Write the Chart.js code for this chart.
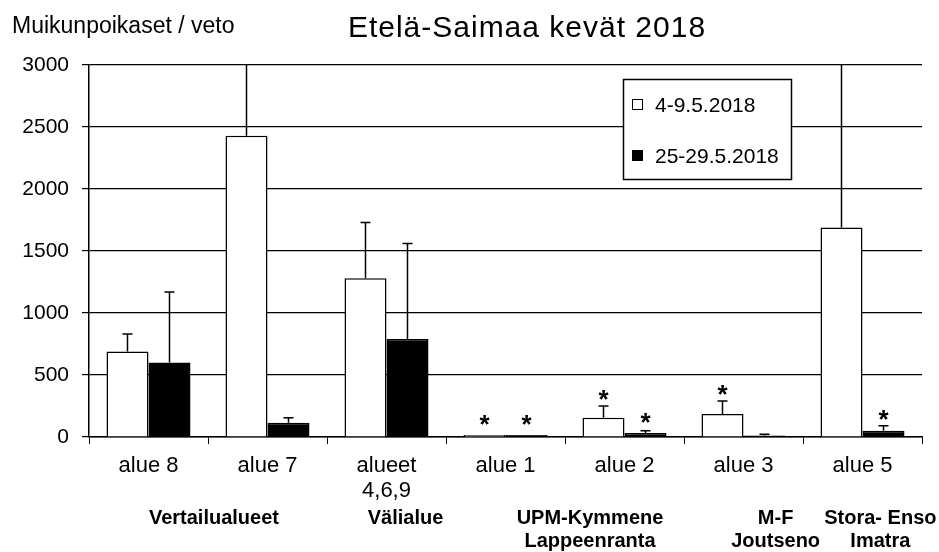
<!DOCTYPE html>
<html>
<head>
<meta charset="utf-8">
<script src="https://cdn.jsdelivr.net/npm/chart.js@4"></script>
<style>
  html, body { margin: 0; padding: 0; background: #fff; }
  #wrap { width: 939px; height: 552px; }
</style>
</head>
<body>
<div id="wrap"><canvas id="aChart" width="939" height="552"></canvas></div>
<script>
let labels = ["alue 8", "alue 7", ["alueet", "4,6,9"], "alue 1", "alue 2", "alue 3", "alue 5"]
let seriesNames = ["4-9.5.2018", "25-29.5.2018"]

let earlyValues = [690, 2430, 1280, 16, 155, 185, 1690]
let earlyErrTop = [830, 3500, 1730, 16, 250, 290, 3300]
let earlyStar = [false, false, false, true, true, true, false]

let lateValues = [600, 115, 790, 16, 32, 12, 50]
let lateErrTop = [1170, 155, 1560, 16, 50, 22, 90]
let lateStar = [false, false, false, true, true, false, true]

// group labels sit between/under categories (index position on the x scale)
let groupNames = [["Vertailualueet"], ["Välialue"], ["UPM-Kymmene", "Lappeenranta"], ["M-F", "Joutseno"], ["Stora- Enso", "Imatra"]]
let groupAt = [0.55, 2.16, 3.71, 5.27, 6.15]

let yTicks = [0, 500, 1000, 1500, 2000, 2500, 3000]

let font = "'Liberation Sans', Arial, sans-serif"

let extras = {
  id: "extras",
  afterDatasetsDraw(chart) {
    let ctx = chart.ctx
    let area = chart.chartArea
    let x = chart.scales.x
    let y = chart.scales.y
    let errs = [earlyErrTop, lateErrTop]
    let stars = [earlyStar, lateStar]

    ctx.save()
    chart.data.datasets.forEach((ds, di) => {
      let meta = chart.getDatasetMeta(di)
      meta.data.forEach((bar, i) => {
        let top = y.getPixelForValue(ds.data[i])
        let et = y.getPixelForValue(errs[di][i])
        // error bar (upper only), clipped at the plot top
        if (errs[di][i] > ds.data[i]) {
          ctx.save()
          ctx.beginPath()
          ctx.rect(area.left, area.top - 1, area.right - area.left, area.bottom - area.top + 1)
          ctx.clip()
          ctx.strokeStyle = "#000"
          ctx.lineWidth = 1.5
          ctx.beginPath()
          ctx.moveTo(bar.x, top)
          ctx.lineTo(bar.x, et)
          ctx.moveTo(bar.x - 5, et)
          ctx.lineTo(bar.x + 5, et)
          ctx.stroke()
          ctx.restore()
        }

        if (stars[di][i]) {
          ctx.fillStyle = "#000"
          ctx.font = "bold 26px " + font
          ctx.textAlign = "center"
          ctx.textBaseline = "alphabetic"
          ctx.fillText("*", bar.x, Math.min(et, top - 4) + 2)
        }
      })
    })

    // title and axis title
    ctx.fillStyle = "#000"
    ctx.textBaseline = "alphabetic"
    ctx.font = "30px " + font
    ctx.letterSpacing = "1px"
    ctx.textAlign = "center"
    ctx.fillText("Etelä-Saimaa kevät 2018", 527, 37)
    ctx.letterSpacing = "0px"
    ctx.font = "23px " + font
    ctx.textAlign = "left"
    ctx.fillText("Muikunpoikaset / veto", 12, 33)

    // group labels
    ctx.font = "bold 20px " + font
    ctx.textAlign = "center"
    ctx.textBaseline = "middle"
    groupNames.forEach((g, gi) => {
      let gx = x.getPixelForValue(groupAt[gi])
      g.forEach((line, li) => ctx.fillText(line, gx, 518 + li * 23))
    })

    // legend
    let lx = 623, ly = 79, lw = 168, lh = 100
    ctx.fillStyle = "#fff"
    ctx.fillRect(lx, ly, lw, lh)
    ctx.strokeStyle = "#000"
    ctx.lineWidth = 1.5
    ctx.strokeRect(lx + 0.5, ly + 0.5, lw, lh)
    ctx.lineWidth = 1
    ctx.textBaseline = "alphabetic"
    chart.data.datasets.forEach((ds, di) => {
      let base = 112 + di * 51
      ctx.fillStyle = ds.backgroundColor
      ctx.fillRect(632, base - 13, 11, 11)
      ctx.strokeStyle = "#000"
      ctx.strokeRect(632.5, base - 12.5, 10, 10)
      ctx.fillStyle = "#000"
      ctx.font = "21px " + font
      ctx.textAlign = "left"
      ctx.fillText(ds.label, 655, base)
    })
    ctx.restore()
  },
}

let aChart = new Chart(document.getElementById("aChart"), {
  type: "bar",
  data: {
    labels: labels,
    datasets: [
      {
        label: seriesNames[0],
        data: earlyValues,
        backgroundColor: "#fff",
        borderColor: "#000",
        borderWidth: 1.5,
        categoryPercentage: 0.706,
        barPercentage: 1,
      },
      {
        label: seriesNames[1],
        data: lateValues,
        backgroundColor: "#000",
        borderColor: "#000",
        borderWidth: 1.5,
        categoryPercentage: 0.706,
        barPercentage: 1,
      },
    ],
  },
  options: {
    responsive: false,
    animation: false,
    layout: { padding: { top: 65, right: 17, left: 0, bottom: 0 } },
    plugins: {
      legend: { display: false },
      tooltip: { enabled: false },
    },
    scales: {
      x: {
        grid: { offset: true, drawOnChartArea: false, color: "#000", tickLength: 7, lineWidth: 1 },
        border: { color: "#000", width: 1.5 },
        ticks: { color: "#000", font: { family: font, size: 22, lineHeight: 1.15 }, padding: 9, maxRotation: 0, autoSkip: false },
        afterFit(scale) { scale.height = 115 },
      },
      y: {
        min: 0,
        max: 3000,
        afterBuildTicks(scale) { scale.ticks = yTicks.map(v => ({ value: v })) },
        grid: { color: "#000", tickLength: 7, lineWidth: 1.2 },
        border: { color: "#000", width: 1.5 },
        ticks: { color: "#000", font: { family: font, size: 21 }, padding: 13, callback: v => String(v) },
        afterFit(scale) { scale.width = 89 },
      },
    },
  },
  plugins: [extras],
});
</script>
</body>
</html>
